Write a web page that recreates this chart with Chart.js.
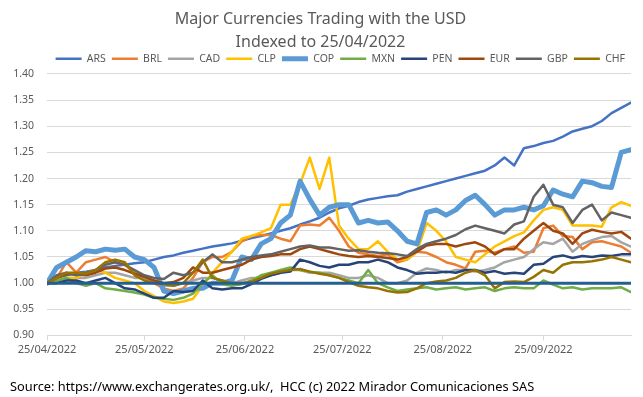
<!DOCTYPE html>
<html>
<head>
<meta charset="utf-8">
<script src="https://cdn.jsdelivr.net/npm/chart.js@4/dist/chart.umd.min.js"></script>
<style>
  html, body { margin: 0; padding: 0; background: #fff; }
  #wrap { width: 643px; height: 397px; }
</style>
</head>
<body>
<div id="wrap"><canvas id="fxChart"></canvas></div>
<script>
/// === DATA === ///
// days since 25/04/2022, one reading every 3 days
const days = [0, 3, 6, 9, 12, 15, 18, 21, 24, 27, 30, 33, 36, 39, 42, 45, 48, 51, 54, 57,
  60, 63, 66, 69, 72, 75, 78, 81, 84, 87, 90, 93, 96, 99, 102, 105, 108, 111, 114, 117,
  120, 123, 126, 129, 132, 135, 138, 141, 144, 147, 150, 153, 156, 159, 162, 165, 168, 171, 174, 177, 180];

const tickDays = [0, 30, 61, 91, 122, 153];
const tickLabels = ["25/04/2022", "25/05/2022", "25/06/2022", "25/07/2022", "25/08/2022", "25/09/2022"];

const currencies = ["ARS", "BRL", "CAD", "CLP", "COP", "MXN", "PEN", "EUR", "GBP", "CHF"];

const ars = [1.00, 1.01, 1.015, 1.02, 1.022, 1.025, 1.03, 1.033, 1.035, 1.038,
  1.04, 1.045, 1.05, 1.053, 1.058, 1.062, 1.066, 1.07, 1.073, 1.076,
  1.081, 1.086, 1.09, 1.095, 1.10, 1.105, 1.112, 1.118, 1.125, 1.135,
  1.143, 1.148, 1.155, 1.16, 1.163, 1.166, 1.168, 1.175, 1.18, 1.185,
  1.19, 1.195, 1.20, 1.205, 1.21, 1.215, 1.225, 1.24, 1.225, 1.258,
  1.262, 1.268, 1.272, 1.28, 1.29, 1.295, 1.30, 1.31, 1.325, 1.335, 1.345];

const brl = [1.00, 1.01, 1.04, 1.02, 1.04, 1.045, 1.05, 1.04, 1.035, 1.02,
  1.01, 1.00, 0.99, 0.985, 0.99, 1.01, 1.04, 1.05, 1.05, 1.06,
  1.08, 1.09, 1.092, 1.092, 1.085, 1.08, 1.11, 1.112, 1.11, 1.125,
  1.10, 1.07, 1.058, 1.055, 1.052, 1.055, 1.04, 1.045, 1.06, 1.058,
  1.05, 1.04, 1.035, 1.028, 1.06, 1.062, 1.058, 1.065, 1.07, 1.058,
  1.06, 1.105, 1.11, 1.09, 1.088, 1.065, 1.078, 1.08, 1.075, 1.07, 1.058];

const cad = [1.00, 1.005, 1.01, 1.01, 1.01, 1.015, 1.02, 1.02, 1.015, 1.01,
  1.01, 1.005, 0.995, 0.995, 1.00, 1.005, 1.01, 1.01, 1.005, 1.00,
  1.005, 1.01, 1.01, 1.015, 1.02, 1.025, 1.025, 1.02, 1.02, 1.02,
  1.015, 1.01, 1.01, 1.015, 1.01, 1.00, 1.00, 1.005, 1.02, 1.028,
  1.025, 1.02, 1.025, 1.025, 1.022, 1.025, 1.03, 1.04, 1.045, 1.05,
  1.065, 1.078, 1.075, 1.085, 1.06, 1.075, 1.082, 1.088, 1.09, 1.078, 1.07];

const clp = [1.00, 1.005, 1.01, 1.01, 1.02, 1.025, 1.02, 1.01, 1.005, 1.00,
  0.985, 0.975, 0.965, 0.962, 0.965, 0.97, 0.995, 1.02, 1.04, 1.06,
  1.085, 1.09, 1.097, 1.105, 1.15, 1.15, 1.19, 1.24, 1.18, 1.24,
  1.11, 1.085, 1.065, 1.065, 1.08, 1.06, 1.045, 1.045, 1.06, 1.115,
  1.10, 1.08, 1.05, 1.045, 1.04, 1.055, 1.07, 1.08, 1.09, 1.097,
  1.12, 1.14, 1.145, 1.14, 1.11, 1.11, 1.11, 1.108, 1.145, 1.155, 1.148];

const cop = [1.00, 1.03, 1.04, 1.05, 1.062, 1.06, 1.065, 1.063, 1.065, 1.05,
  1.045, 1.03, 0.985, 0.98, 0.985, 0.99, 0.99, 1.00, 1.00, 1.005,
  1.05, 1.045, 1.075, 1.085, 1.115, 1.13, 1.195, 1.16, 1.13, 1.145,
  1.15, 1.15, 1.115, 1.12, 1.115, 1.117, 1.10, 1.08, 1.075, 1.135,
  1.14, 1.13, 1.14, 1.158, 1.168, 1.15, 1.13, 1.14, 1.14, 1.145,
  1.14, 1.148, 1.178, 1.17, 1.165, 1.195, 1.192, 1.185, 1.183, 1.25, 1.255];

const mxn = [1.00, 1.005, 1.01, 1.00, 0.995, 1.00, 0.99, 0.988, 0.985, 0.982,
  0.978, 0.972, 0.97, 0.968, 0.972, 0.98, 1.00, 1.015, 0.998, 0.995,
  0.998, 1.005, 1.015, 1.02, 1.025, 1.03, 1.025, 1.022, 1.02, 1.015,
  1.01, 1.005, 1.00, 1.025, 1.00, 0.992, 0.985, 0.988, 0.99, 0.992,
  0.988, 0.99, 0.992, 0.988, 0.99, 0.992, 0.985, 0.99, 0.992, 0.99,
  0.99, 1.005, 0.997, 0.99, 0.992, 0.988, 0.99, 0.99, 0.99, 0.992, 0.983];

const pen = [1.00, 1.00, 1.005, 1.005, 1.00, 1.005, 1.01, 1.00, 0.99, 0.988,
  0.98, 0.972, 0.972, 0.985, 0.983, 0.985, 1.005, 0.99, 0.988, 0.99,
  0.99, 0.998, 1.008, 1.015, 1.02, 1.022, 1.045, 1.04, 1.033, 1.03,
  1.035, 1.035, 1.04, 1.04, 1.045, 1.04, 1.03, 1.025, 1.018, 1.02,
  1.02, 1.022, 1.02, 1.025, 1.025, 1.02, 1.023, 1.018, 1.02, 1.018,
  1.035, 1.037, 1.05, 1.053, 1.048, 1.052, 1.05, 1.053, 1.052, 1.055, 1.055];

const eur = [1.00, 1.01, 1.017, 1.017, 1.015, 1.02, 1.028, 1.03, 1.025, 1.018,
  1.012, 1.005, 1.00, 1.002, 1.01, 1.03, 1.02, 1.02, 1.025, 1.03,
  1.035, 1.045, 1.05, 1.052, 1.055, 1.055, 1.065, 1.07, 1.065, 1.06,
  1.055, 1.052, 1.05, 1.052, 1.05, 1.048, 1.045, 1.05, 1.06, 1.072,
  1.075, 1.075, 1.07, 1.075, 1.078, 1.07, 1.055, 1.065, 1.065, 1.085,
  1.10, 1.115, 1.10, 1.095, 1.075, 1.095, 1.102, 1.098, 1.095, 1.098, 1.085];

const gbp = [1.00, 1.015, 1.02, 1.015, 1.02, 1.025, 1.035, 1.04, 1.035, 1.025,
  1.015, 1.01, 1.008, 1.02, 1.015, 1.02, 1.04, 1.055, 1.04, 1.04,
  1.045, 1.05, 1.053, 1.055, 1.06, 1.065, 1.07, 1.072, 1.068, 1.068,
  1.065, 1.062, 1.063, 1.06, 1.058, 1.057, 1.055, 1.052, 1.065, 1.075,
  1.08, 1.085, 1.092, 1.103, 1.11, 1.105, 1.10, 1.095, 1.112, 1.118,
  1.165, 1.188, 1.15, 1.145, 1.115, 1.14, 1.15, 1.12, 1.135, 1.13, 1.125];

const chf = [1.00, 1.01, 1.02, 1.02, 1.018, 1.025, 1.04, 1.045, 1.04, 1.015,
  1.005, 1.00, 0.998, 0.995, 1.00, 1.02, 1.045, 1.01, 1.005, 1.00,
  1.00, 1.003, 1.01, 1.018, 1.022, 1.025, 1.027, 1.022, 1.018, 1.015,
  1.01, 1.002, 0.995, 0.992, 0.99, 0.985, 0.982, 0.983, 0.99, 1.00,
  1.003, 1.005, 1.01, 1.02, 1.025, 1.015, 0.99, 1.002, 1.003, 1.002,
  1.012, 1.025, 1.02, 1.035, 1.04, 1.04, 1.042, 1.045, 1.05, 1.045, 1.04];

// index level line (not in the legend)
const baseDays = [0, 180];
const baseLevel = [1.00, 1.00];

const series = [ars, brl, cad, clp, cop, mxn, pen, eur, gbp, chf];
const colors = ["#4472C4", "#ED7D31", "#A5A5A5", "#FFC000", "#5B9BD5", "#70AD47", "#264478", "#9E480E", "#636363", "#997300"];
const widths = [2.5, 2.5, 2.5, 2.5, 5, 2.5, 2.5, 2.5, 2.5, 2.5];

/// === CHART === ///
const font = "'Noto Sans', 'DejaVu Sans', sans-serif";
const grey = "#595959";

const datasets = currencies.map((name, i) => ({
  label: name,
  data: series[i].map((v, j) => ({ x: days[j], y: v })),
  borderColor: colors[i],
  backgroundColor: colors[i],
  borderWidth: widths[i],
  order: 20 - i,
}));

datasets.push({
  label: "Base",
  data: baseLevel.map((v, j) => ({ x: baseDays[j], y: v })),
  borderColor: "#255E91",
  backgroundColor: "#255E91",
  borderWidth: 3,
  order: 0,
});

new Chart(document.getElementById("fxChart"), {
  type: "line",
  data: { datasets },
  options: {
    responsive: true,
    maintainAspectRatio: false,
    animation: false,
    layout: { padding: { left: 10, right: 12, top: 8, bottom: 0 } },
    elements: {
      point: { radius: 0, hoverRadius: 0, pointStyle: "line" },
      line: { tension: 0, borderJoinStyle: "round", borderCapStyle: "round" },
    },
    plugins: {
      tooltip: { enabled: false },
      title: {
        display: true,
        text: ["Major Currencies Trading with the USD", "Indexed to 25/04/2022"],
        color: grey,
        font: { family: font, size: 16, weight: "normal", lineHeight: 1.45 },
        padding: { top: 0, bottom: -7 },
      },
      subtitle: {
        display: true,
        position: "bottom",
        align: "start",
        text: "Source: https://www.exchangerates.org.uk/,  HCC (c) 2022 Mirador Comunicaciones SAS",
        color: "#000000",
        font: { family: font, size: 12.8, weight: "normal" },
        padding: { top: 20, bottom: 2 },
      },
      legend: {
        position: "top",
        align: "end",
        labels: {
          sort: (a, b) => a.datasetIndex - b.datasetIndex,
          filter: (item) => item.text !== "Base",
          usePointStyle: true,
          pointStyleWidth: 26,
          boxHeight: 10,
          padding: 6,
          color: grey,
          font: { family: font, size: 10.5 },
        },
      },
    },
    scales: {
      x: {
        type: "linear",
        min: 0,
        max: 180,
        afterBuildTicks: (axis) => {
          axis.ticks = tickDays.map((d) => ({ value: d }));
        },
        ticks: {
          autoSkip: false,
          maxRotation: 0,
          padding: 3,
          color: grey,
          font: { family: font, size: 11 },
          callback: (value) => tickLabels[tickDays.indexOf(value)],
        },
        grid: { drawOnChartArea: false, drawTicks: true, tickLength: 5, color: "#D9D9D9" },
        border: { color: "#D9D9D9" },
      },
      y: {
        min: 0.9,
        max: 1.4,
        afterFit: (axis) => {
          axis.width = 37;
        },
        ticks: {
          stepSize: 0.05,
          padding: 13,
          color: grey,
          font: { family: font, size: 10.5 },
          callback: (value) => value.toFixed(2),
        },
        grid: { color: "#D9D9D9", drawTicks: false },
        border: { display: false },
      },
    },
  },
});
</script>
</body>
</html>
